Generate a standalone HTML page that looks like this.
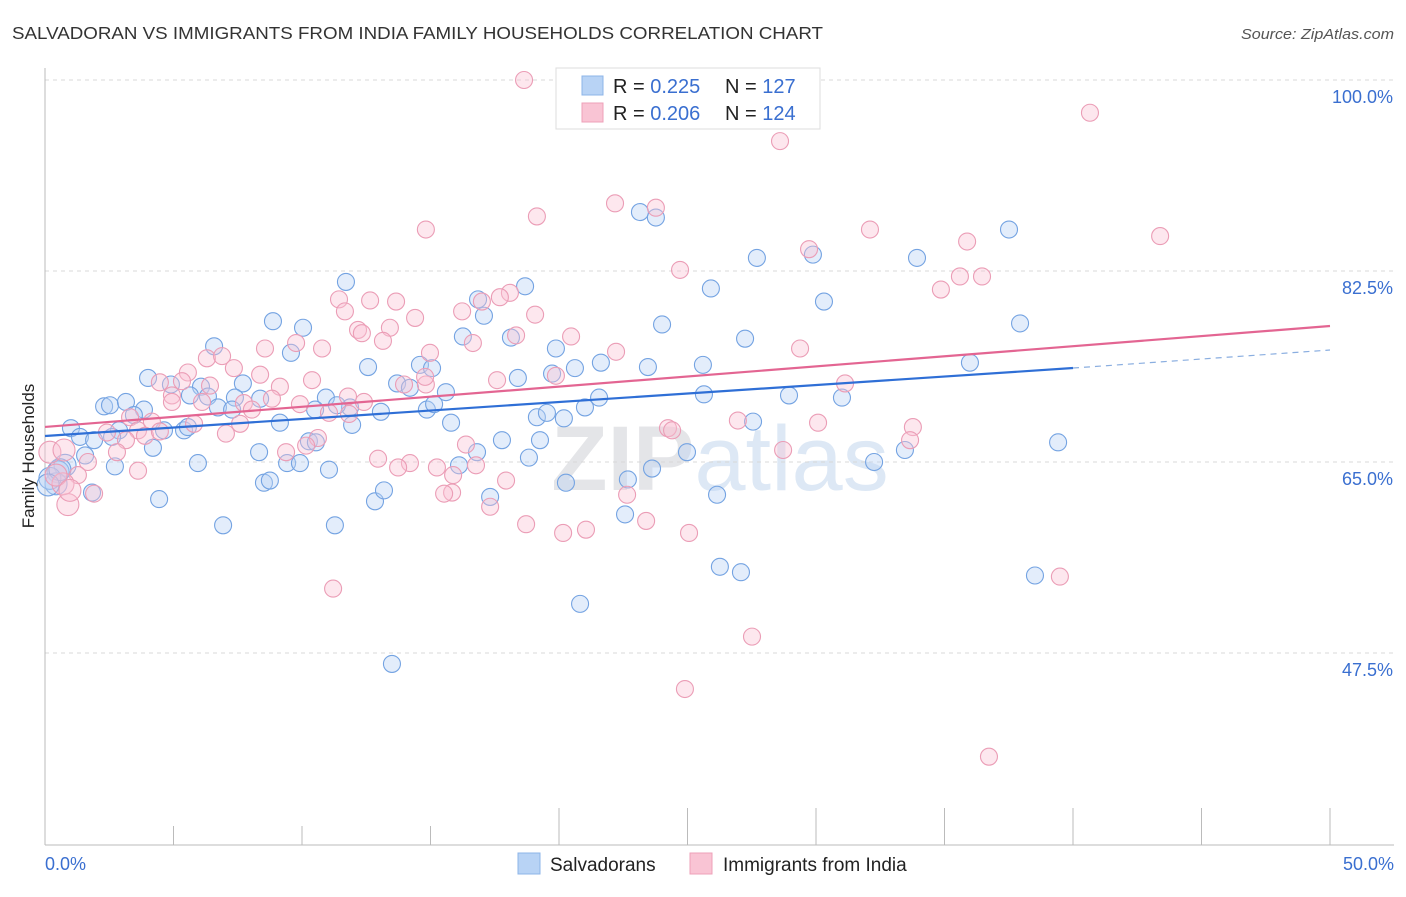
<!DOCTYPE html>
<html><head><meta charset="utf-8"><style>
body{margin:0;background:#fff;font-family:"Liberation Sans",sans-serif;}
svg text{font-family:"Liberation Sans",sans-serif;}
</style></head><body>
<svg id="chart" width="1406" height="892" viewBox="0 0 1406 892" xmlns="http://www.w3.org/2000/svg">
<text x="12" y="39" font-size="17.5" fill="#333" textLength="811" lengthAdjust="spacingAndGlyphs">SALVADORAN VS IMMIGRANTS FROM INDIA FAMILY HOUSEHOLDS CORRELATION CHART</text>
<text x="1394" y="39" font-size="15" fill="#555" text-anchor="end" font-style="italic" textLength="153" lengthAdjust="spacingAndGlyphs">Source: ZipAtlas.com</text>
<text x="720" y="490" font-size="92" text-anchor="middle" fill="#e8eaed" font-family="Liberation Serif"><tspan font-weight="bold" fill="#e4e5e8">ZIP</tspan><tspan fill="#dde8f5" font-family="Liberation Sans">atlas</tspan></text>
<g id="grid"></g>
<g id="axes"></g>
<g id="pts"></g>
<g id="trends"></g>
<text transform="translate(34,456) rotate(-90)" font-size="17" fill="#222" text-anchor="middle">Family Households</text>
<g>
<rect x="556" y="68" width="264" height="61" fill="#fff" stroke="#ddd"/>
<rect x="582" y="76" width="21" height="19" fill="#b8d3f5" stroke="#8db4e8"/>
<rect x="582" y="103" width="21" height="19" fill="#f9c4d4" stroke="#eea0b8"/>
<text x="613" y="93" font-size="20" fill="#222">R = <tspan fill="#3a6fd0">0.225</tspan><tspan x="725">N = </tspan><tspan fill="#3a6fd0">127</tspan></text>
<text x="613" y="120" font-size="20" fill="#222">R = <tspan fill="#3a6fd0">0.206</tspan><tspan x="725">N = </tspan><tspan fill="#3a6fd0">124</tspan></text>
</g>
<g>
<rect x="518" y="853" width="22" height="21" fill="#b8d3f5" stroke="#8db4e8"/>
<text x="550" y="871" font-size="19" fill="#222">Salvadorans</text>
<rect x="690" y="853" width="22" height="21" fill="#f9c4d4" stroke="#eea0b8"/>
<text x="723" y="871" font-size="19" fill="#222">Immigrants from India</text>
</g>
</svg>
<script>
const yTicks=[100,82.5,65,47.5];
const yTickLabels=["100.0%","82.5%","65.0%","47.5%"];
const xTickLabels=["0.0%","50.0%"];
const blueX=[23.15,23.77,37.51,27.70,29.88,33.93,11.71,18.68,25.91,30.31,16.85,17.08,8.87,10.04,24.01,37.94,16.26,27.24,18.13,19.88,9.57,6.58,14.59,15.06,12.57,20.62,23.46,25.60,21.63,35.99,4.01,7.70,4.90,6.07,5.64,13.70,14.20,15.60,18.40,19.73,21.56,25.64,28.95,31.01,2.30,2.53,3.15,3.85,3.46,7.39,6.34,8.37,10.93,11.87,6.73,7.28,10.51,13.07,14.86,15.14,11.36,19.14,19.53,20.19,21.01,1.01,1.36,1.91,2.88,5.41,5.56,4.63,4.20,2.61,9.14,11.95,15.80,10.27,10.54,8.33,17.78,19.26,24.98,27.55,39.42,33.46,0.78,1.56,2.72,5.95,9.42,9.92,11.05,16.11,16.81,18.83,23.62,32.26,0.51,0.43,1.83,4.44,8.52,8.75,12.84,13.19,17.32,20.27,22.68,26.15,22.57,6.93,11.28,26.26,27.08,38.52,20.82,13.50,0.19,0.58,0.12];
const blueY=[87.9,87.4,86.3,83.7,84.0,83.7,81.5,81.1,80.9,79.7,79.9,78.4,77.9,77.3,77.6,77.7,76.5,76.3,76.4,75.4,75.0,75.6,73.9,73.6,73.7,73.6,73.7,73.9,74.1,74.1,72.7,72.2,72.1,71.9,71.1,72.2,71.8,71.4,72.7,73.1,70.9,71.2,71.1,70.9,70.1,70.2,70.5,69.8,69.3,70.9,71.0,70.8,70.9,70.0,70.0,69.8,69.8,69.6,69.8,70.3,70.2,69.1,69.5,69.0,70.0,68.1,67.3,67.0,67.9,67.9,68.2,67.9,66.3,67.3,68.6,68.4,68.6,66.9,66.8,65.9,67.0,67.0,65.9,68.7,66.8,66.1,64.7,65.6,64.6,64.9,64.9,64.9,64.3,64.7,65.9,65.4,64.4,65.0,64.1,63.0,62.2,61.6,63.1,63.3,61.4,62.4,61.8,63.1,63.4,62.0,60.2,59.2,59.2,55.4,54.9,54.6,52.0,46.5,63.5,64.3,62.9];
const pinkX=[18.64,40.66,28.60,22.18,23.77,19.14,14.82,29.73,32.10,35.88,43.39,24.71,35.60,36.46,34.86,11.44,12.65,13.66,18.09,17.70,17.00,11.67,14.40,19.07,16.23,12.18,13.42,12.33,13.15,20.47,18.33,16.65,8.56,10.78,9.77,14.98,22.22,29.38,6.30,6.89,5.56,7.35,8.37,5.33,4.47,9.14,10.39,13.97,14.82,14.79,17.59,19.88,31.13,4.94,6.42,6.11,7.74,8.83,9.92,11.79,12.41,11.05,11.83,8.05,4.94,3.31,3.62,2.41,4.16,3.15,3.89,4.47,5.80,7.59,7.04,10.62,10.16,9.38,16.38,24.24,24.40,26.96,30.08,33.77,33.66,28.72,0.19,0.74,1.67,2.80,1.28,1.91,0.89,0.70,3.62,12.96,14.20,13.74,15.25,16.77,17.94,15.84,15.53,15.88,17.32,22.65,18.72,20.16,21.05,23.39,25.06,11.21,27.51,24.90,36.73,39.49,0.43,0.97];
const pinkY=[100.0,97.0,94.4,88.7,88.3,87.5,86.3,84.5,86.3,85.2,85.7,82.6,82.0,82.0,80.8,79.9,79.8,79.7,80.5,80.1,79.7,78.8,78.2,78.5,78.8,77.1,77.3,76.8,76.1,76.5,76.6,75.9,75.4,75.4,75.9,75.0,75.1,75.4,74.5,74.7,73.2,73.6,73.0,72.4,72.3,71.9,72.5,72.1,72.1,72.8,72.5,72.9,72.2,71.1,72.0,70.5,70.4,70.8,70.3,71.0,70.5,69.5,69.4,69.8,70.5,69.1,67.9,67.7,68.7,67.0,67.4,67.8,68.5,68.5,67.6,67.2,66.5,65.9,66.6,68.1,67.9,68.8,68.6,68.2,67.0,66.1,65.9,66.1,65.0,65.9,63.8,62.1,61.1,63.0,64.2,65.3,64.9,64.5,64.5,64.7,63.3,62.2,62.1,63.8,60.9,62.0,59.3,58.5,58.8,59.6,58.5,53.4,49.0,44.2,38.0,54.5,63.8,62.4];
const blueTrend=[67.38,73.61,75.26];
const pinkTrend=[68.21,77.46];
const NS="http://www.w3.org/2000/svg";
const X=v=>45+v*25.7;
const Y=v=>80+(100-v)*191/17.5;
function mk(tag,parent,attrs){const e=document.createElementNS(NS,tag);for(const k in attrs)e.setAttribute(k,attrs[k]);parent.appendChild(e);return e;}
const grid=document.getElementById('grid'),axes=document.getElementById('axes'),pts=document.getElementById('pts'),tr=document.getElementById('trends');
yTicks.forEach((t,i)=>{
 const l=mk('line',grid,{x1:45,x2:1394,y1:Y(t),y2:Y(t),stroke:'#d8d8d8','stroke-dasharray':'4,4'});
 
 
 const tx=mk('text',axes,{x:1393,y:Y(t)+23,'font-size':18,fill:'#3a6fd0','text-anchor':'end'});
 tx.textContent=yTickLabels[i];
 
 
});
let a=mk('line',axes,{x1:45,x2:45,y1:68,y2:845,stroke:'#bbb'});


a=mk('line',axes,{x1:45,x2:1394,y1:845,y2:845,stroke:'#bbb'});


for(let i=1;i<=10;i++){
 const tk=mk('line',axes,{x1:X(i*5),x2:X(i*5),y1:i>=4?808:826,y2:845,stroke:'#bbb'});
 
 
}
[[0,'start',45],[50,'end',1394]].forEach((d,i)=>{
 const tx=mk('text',axes,{x:d[2],y:870,'font-size':18,fill:'#3a6fd0','text-anchor':d[1]});
 tx.textContent=xTickLabels[i];
 
 
});
function dots(xs,ys,fill,stroke,name){
 xs.forEach((x,i)=>{
  const big=x<1.2&&ys[i]>60&&ys[i]<67;
  const c=mk('circle',pts,{cx:X(x),cy:Y(ys[i]),r:big?11:8.5,fill:fill,'fill-opacity':0.4,stroke:stroke,'stroke-width':1.1});
  
  
 });
}
dots(blueX,blueY,'#b8d3f5','#74a3e2','salvadoran-point');
dots(pinkX,pinkY,'#f9c4d4','#eb9db6','india-point');
let t=mk('line',tr,{x1:X(0),y1:Y(blueTrend[0]),x2:X(40),y2:Y(blueTrend[1]),stroke:'#2f6fd6','stroke-width':2.2});


t=mk('line',tr,{x1:X(40),y1:Y(blueTrend[1]),x2:X(50),y2:Y(blueTrend[2]),stroke:'#8aaee0','stroke-width':1.2,'stroke-dasharray':'6,5'});


t=mk('line',tr,{x1:X(0),y1:Y(pinkTrend[0]),x2:X(50),y2:Y(pinkTrend[1]),stroke:'#e36592','stroke-width':2.2});


</script>
</body></html>
